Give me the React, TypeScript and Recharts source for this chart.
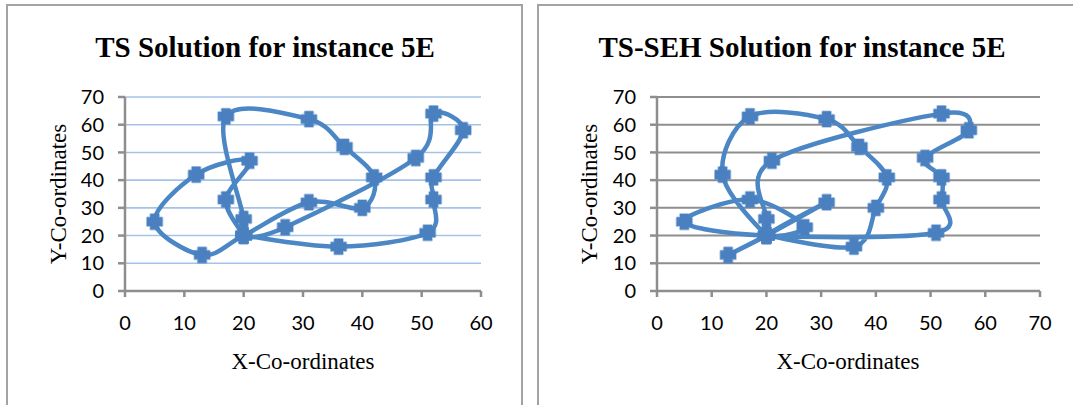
import React from 'react';
import { ScatterChart, Scatter, XAxis, YAxis, CartesianGrid } from 'recharts';

// TS solution: routes from depot (20,20), visited in order
const tsX = [20, 17, 21, 12, 5, 13, 20, 31, 40, 42, 37, 31, 17, 20, 20, 27, 49, 52, 57, 52, 52, 51, 36, 20];
const tsY = [20, 33, 47, 42, 25, 13, 20, 32, 30, 41, 52, 62, 63, 26, 20, 23, 48, 64, 58, 41, 33, 21, 16, 20];

// TS-SEH solution
const sehX = [20, 13, 20, 31, 20, 27, 17, 5, 20, 51, 52, 52, 49, 57, 52, 21, 20, 20, 12, 17, 31, 37, 42, 40, 36, 20];
const sehY = [20, 13, 20, 32, 20, 23, 33, 25, 20, 21, 33, 41, 48, 58, 64, 47, 26, 20, 42, 63, 62, 52, 41, 30, 16, 20];

const xTicksTS = [0, 10, 20, 30, 40, 50, 60];
const xTicksSEH = [0, 10, 20, 30, 40, 50, 60, 70];
const yTicks = [0, 10, 20, 30, 40, 50, 60, 70];

const titleTS = 'TS Solution for instance 5E';
const titleSEH = 'TS-SEH Solution for instance 5E';
const xTitle = 'X-Co-ordinates';
const yTitle = 'Y-Co-ordinates';

const LINE = '#4b86c5';
const MARK = '#4a80c0';
const AXIS = '#8e8e8e';
const BORDER = '#a3a3a3';

const toPoints = (xs: number[], ys: number[]) => xs.map((x, i) => ({ x, y: ys[i] }));

// Excel-like smoothing (Catmull-Rom as cubic Bezier)
function excelSmooth(context: any) {
  let pts: number[][] = [];
  return {
    areaStart() {},
    areaEnd() {},
    lineStart() {
      pts = [];
    },
    point(x: number, y: number) {
      pts.push([+x, +y]);
    },
    lineEnd() {
      const n = pts.length;
      if (!n) return;
      context.moveTo(pts[0][0], pts[0][1]);
      for (let i = 0; i < n - 1; i++) {
        const p0 = pts[i - 1] || pts[i];
        const p1 = pts[i];
        const p2 = pts[i + 1];
        const p3 = pts[i + 2] || pts[i + 1];
        const c1x = p1[0] + (p2[0] - p0[0]) / 6;
        const c1y = p1[1] + (p2[1] - p0[1]) / 6;
        const c2x = p2[0] - (p3[0] - p1[0]) / 6;
        const c2y = p2[1] - (p3[1] - p1[1]) / 6;
        context.bezierCurveTo(c1x, c1y, c2x, c2y, p2[0], p2[1]);
      }
    },
  };
}

const Marker = (props: any) => {
  const { cx, cy } = props;
  if (cx == null || cy == null) return null;
  const a = 7.2;
  const b = 3.8;
  const d = `M${cx - b},${cy - a}H${cx + b}V${cy - b}H${cx + a}V${cy + b}H${cx + b}V${cy + a}H${cx - b}V${cy + b}H${cx - a}V${cy - b}H${cx - b}Z`;
  return (
    <g>
      <path d={d} fill="none" stroke={MARK} strokeWidth={3} strokeLinejoin="round" opacity={0.45} />
      <path d={d} fill={MARK} stroke={MARK} strokeWidth={1.2} strokeLinejoin="round" />
    </g>
  );
};

const tickStyle = { fill: '#000', fontSize: 20, fontFamily: 'Lato, "Open Sans", sans-serif' };

function RouteChart(props: {
  left: number;
  width: number;
  yAxisWidth: number;
  rightMargin: number;
  xMax: number;
  xTicks: number[];
  data: { x: number; y: number }[];
  gridColor: string;
  gridWidth: number;
}) {
  const { left, width, yAxisWidth, rightMargin, xMax, xTicks, data, gridColor, gridWidth } = props;
  return (
    <div style={{ position: 'absolute', left, top: 0 }}>
      <ScatterChart width={width} height={351} margin={{ top: 97, right: rightMargin, bottom: 0, left: 0 }}>
        <CartesianGrid vertical={false} stroke={gridColor} strokeWidth={gridWidth} />
        <XAxis
          type="number"
          dataKey="x"
          domain={[0, xMax]}
          ticks={xTicks}
          interval={0}
          height={60}
          tickSize={6}
          tickMargin={19}
          axisLine={{ stroke: AXIS, strokeWidth: 2.5 }}
          tickLine={{ stroke: AXIS, strokeWidth: 2.5 }}
          tick={tickStyle}
        />
        <YAxis
          type="number"
          dataKey="y"
          domain={[0, 70]}
          ticks={yTicks}
          interval={0}
          width={yAxisWidth}
          tickSize={7}
          tickMargin={14}
          axisLine={{ stroke: AXIS, strokeWidth: 2.5 }}
          tickLine={{ stroke: AXIS, strokeWidth: 2.5 }}
          tick={tickStyle}
        />
        <Scatter
          data={data}
          line={{ stroke: LINE, strokeWidth: 4.5 }}
          lineJointType={excelSmooth as any}
          shape={Marker}
          fill={MARK}
          isAnimationActive={false}
        />
      </ScatterChart>
    </div>
  );
}

export default function App() {
  const serif = '"Liberation Serif", "Times New Roman", serif';
  return (
    <div style={{ position: 'absolute', left: 0, top: 0, width: 1073, height: 405, overflow: 'hidden', background: '#fff' }}>
      <div style={{ position: 'absolute', left: 6, top: 4, width: 517, height: 460, border: `2.5px solid ${BORDER}`, boxSizing: 'border-box' }} />
      <div style={{ position: 'absolute', left: 537, top: 4, width: 600, height: 460, border: `2.5px solid ${BORDER}`, boxSizing: 'border-box' }} />
      <RouteChart left={0} width={521} yAxisWidth={125} rightMargin={40} xMax={60} xTicks={xTicksTS} data={toPoints(tsX, tsY)} gridColor="#a5c2e7" gridWidth={1.6} />
      <RouteChart left={533} width={540} yAxisWidth={124} rightMargin={33} xMax={70} xTicks={xTicksSEH} data={toPoints(sehX, sehY)} gridColor="#8e8e8e" gridWidth={2} />
      <svg width={1073} height={405} style={{ position: 'absolute', left: 0, top: 0, pointerEvents: 'none' }}>
        <text x={265} y={57} textAnchor="middle" fontFamily={serif} fontWeight="bold" fontSize={29} fill="#000">{titleTS}</text>
        <text x={802} y={57} textAnchor="middle" fontFamily={serif} fontWeight="bold" fontSize={29} fill="#000">{titleSEH}</text>
        <text x={303} y={369} textAnchor="middle" fontFamily={serif} fontSize={23} fill="#000">{xTitle}</text>
        <text x={848} y={369} textAnchor="middle" fontFamily={serif} fontSize={23} fill="#000">{xTitle}</text>
        <text transform="translate(66,194) rotate(-90)" textAnchor="middle" fontFamily={serif} fontSize={23} fill="#000">{yTitle}</text>
        <text transform="translate(597,194) rotate(-90)" textAnchor="middle" fontFamily={serif} fontSize={23} fill="#000">{yTitle}</text>
      </svg>
    </div>
  );
}
